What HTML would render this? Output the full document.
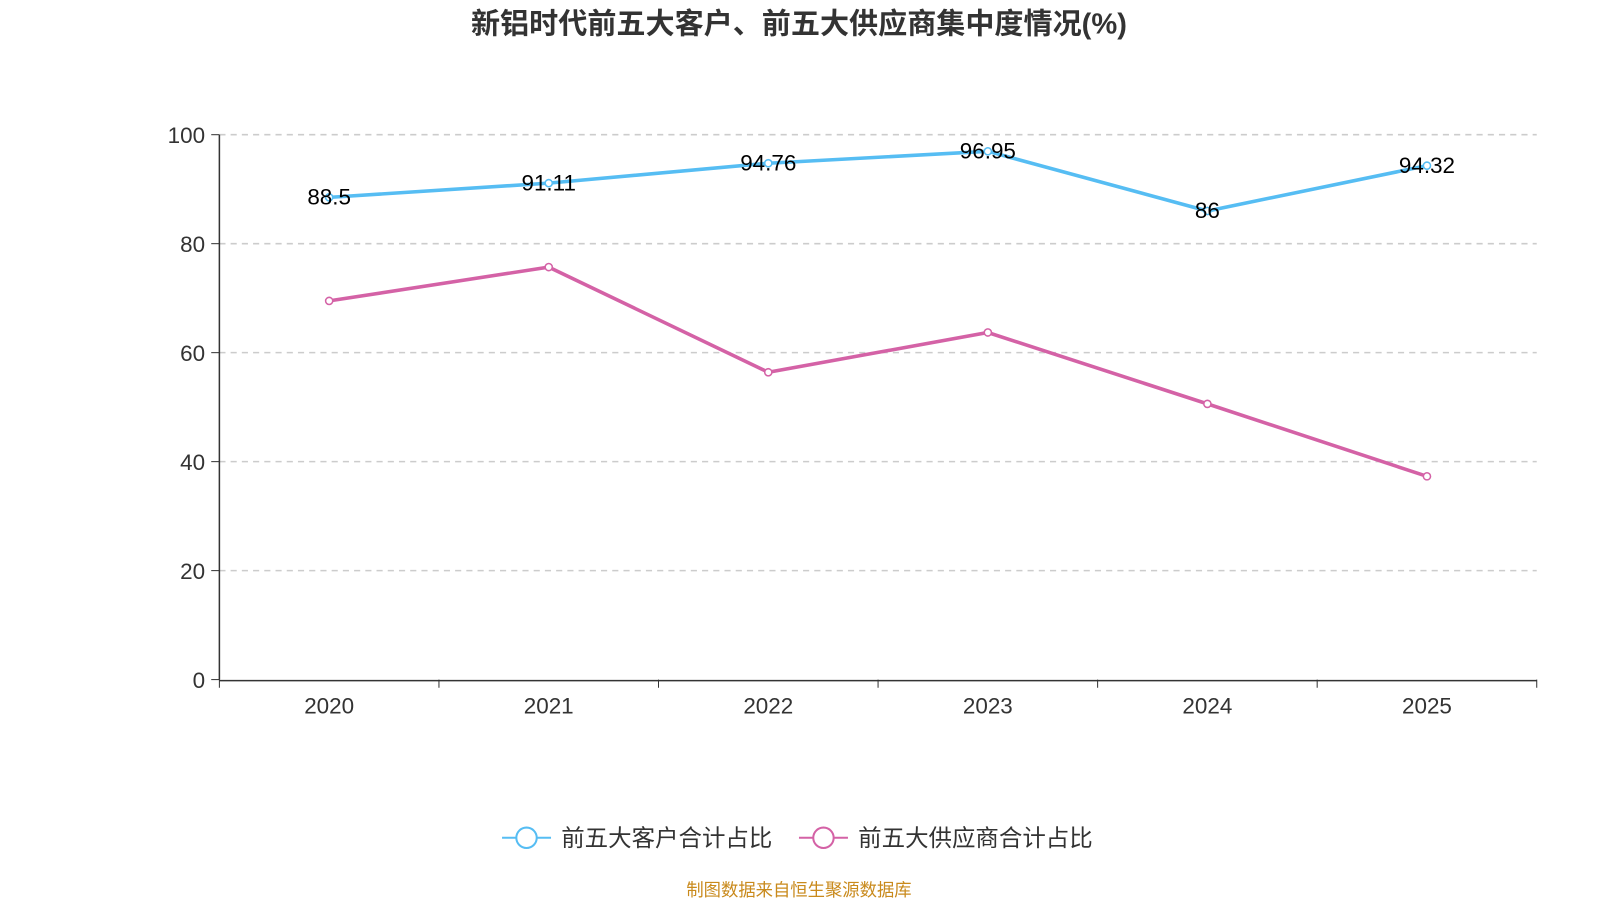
<!DOCTYPE html>
<html><head><meta charset="utf-8"><style>
body{margin:0;background:#fff;width:1600px;height:900px;overflow:hidden;font-family:"Liberation Sans","Noto Sans CJK SC",sans-serif}
</style></head><body>
<svg id="c" width="1600" height="900" viewBox="0 0 1568 882" xmlns="http://www.w3.org/2000/svg"></svg>
<script>
const categories=["2020","2021","2022","2023","2024","2025"];
const customerValues=[88.5,91.11,94.76,96.95,86,94.32];
const supplierValues=[69.5,75.7,56.4,63.7,50.6,37.3];
const yTicks=[0,20,40,60,80,100];
const seriesNames=["前五大客户合计占比","前五大供应商合计占比"];
const svg=document.getElementById('c');
const NS='http://www.w3.org/2000/svg';
const x0=215,x1=1506,yTop=132,yBot=666;
const bw=(x1-x0)/categories.length;
const xs=i=>x0+bw*(i+0.5);
const ys=v=>yBot-(v/100)*(yBot-yTop);
function el(t,a,txt){const e=document.createElementNS(NS,t);for(const k in a)e.setAttribute(k,a[k]);if(txt!==undefined)e.textContent=txt;svg.appendChild(e);return e;}
let e;
e=el('text',{x:783,y:33,'text-anchor':'middle','font-size':28.5,'font-weight':'bold',fill:'#333'},'新铝时代前五大客户、前五大供应商集中度情况(%)');


yTicks.forEach(t=>{
 if(t>0){e=el('line',{x1:x0,x2:x1,y1:ys(t),y2:ys(t),stroke:'#ccc','stroke-dasharray':'6,5','stroke-width':1.5});
 
 }
 e=el('line',{x1:x0-8,x2:x0,y1:ys(t),y2:ys(t),stroke:'#333'});
 
 
 e=el('text',{x:x0-14,y:ys(t)+8,'text-anchor':'end','font-size':22,fill:'#333'},t);
 
 
});
e=el('line',{x1:x0,x2:x0,y1:yTop,y2:yBot,stroke:'#333','stroke-width':1.5});


e=el('line',{x1:x0,x2:x1,y1:yBot+1,y2:yBot+1,stroke:'#333','stroke-width':1.5});


for(let i=0;i<=categories.length;i++){
 e=el('line',{x1:x0+bw*i,x2:x0+bw*i,y1:yBot,y2:yBot+8,stroke:'#333'});
 
 
}
categories.forEach((c,i)=>{
 e=el('text',{x:xs(i),y:699,'text-anchor':'middle','font-size':22,fill:'#333'},c);
 
 
});
function series(vals,color,name,labels){
 e=el('polyline',{points:vals.map((v,i)=>xs(i)+','+ys(v)).join(' '),fill:'none',stroke:color,'stroke-width':3.5});
 
 
 vals.forEach((v,i)=>{
  e=el('circle',{cx:xs(i),cy:ys(v),r:3.5,fill:'#fff',stroke:color,'stroke-width':1.5});
  
  
  if(labels){
   e=el('text',{x:xs(i),y:ys(v)+7,'text-anchor':'middle','font-size':22,fill:'#000'},v);
   
   
  }
 });
}
series(customerValues,'#56bdf3','customer',true);
series(supplierValues,'#d462a6','supplier',false);
[[516,'#56bdf3',550,seriesNames[0]],[807,'#d462a6',841,seriesNames[1]]].forEach(([cx,col,tx,txt])=>{
 e=el('line',{x1:cx-24,x2:cx+24,y1:821,y2:821,stroke:col,'stroke-width':2});
 
 
 e=el('circle',{cx:cx,cy:821,r:10,fill:'#fff',stroke:col,'stroke-width':2});
 
 
 e=el('text',{x:tx,y:829,'font-size':23,fill:'#333'},txt);
 
 
});
e=el('text',{x:783,y:878,'text-anchor':'middle','font-size':17,fill:'#c98a1c'},'制图数据来自恒生聚源数据库');


</script>
</body></html>
